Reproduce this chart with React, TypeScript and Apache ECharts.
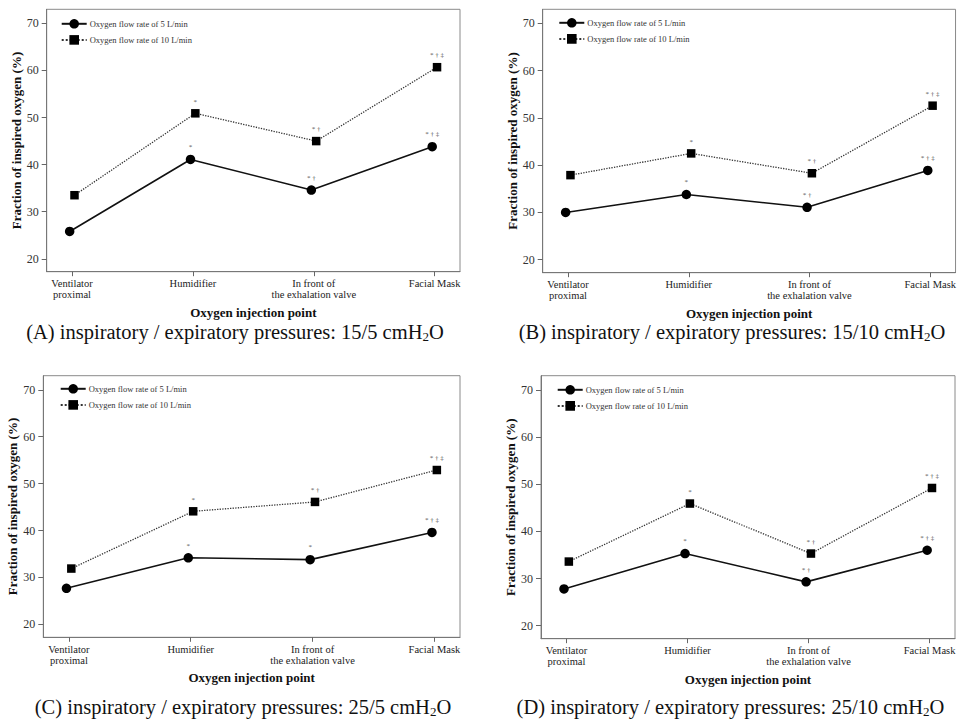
import React, { useEffect, useRef } from 'react';
import * as echarts from 'echarts';

const categories = ['Ventilator\nproximal', 'Humidifier', 'In front of\nthe exhalation valve', 'Facial Mask'];
const categoryIndex = [0, 1, 2, 3];
const yTicks = [20, 30, 40, 50, 60, 70];
const seriesNames = ['Oxygen flow rate of 5 L/min', 'Oxygen flow rate of 10 L/min'];

const panelA_5 = [25.8, 41.1, 34.6, 43.8];
const panelA_10 = [33.5, 50.9, 45.0, 60.7];
const panelB_5 = [30.0, 33.8, 31.1, 38.9];
const panelB_10 = [37.9, 42.5, 38.3, 52.6];
const panelC_5 = [27.7, 34.2, 33.8, 39.6];
const panelC_10 = [31.9, 44.1, 46.1, 52.9];
const panelD_5 = [27.8, 35.3, 29.3, 36.0];
const panelD_10 = [33.6, 45.9, 35.3, 49.2];

const marksStd = ['', '*', '* †', '* † ‡'];
const marksC_5 = ['', '*', '*', '* † ‡'];

const captionA = '(A) inspiratory / expiratory pressures: 15/5 cmH{sub|2}O';
const captionB = '(B) inspiratory / expiratory pressures: 15/10 cmH{sub|2}O';
const captionC = '(C) inspiratory / expiratory pressures: 25/5 cmH{sub|2}O';
const captionD = '(D) inspiratory / expiratory pressures: 25/10 cmH{sub|2}O';

const xAxisName = 'Oxygen injection point';
const yAxisName = 'Fraction of inspired oxygen (%)';

const SERIF = "'Liberation Serif', 'Times New Roman', 'DejaVu Serif', serif";

export default function App() {
  const ref = useRef<HTMLDivElement>(null);

  useEffect(() => {
    if (!ref.current) return;
    const chart = echarts.init(ref.current, null, { renderer: 'svg' });

    const panels = [
      { v5: panelA_5, v10: panelA_10, m5: marksStd, m10: marksStd, caption: captionA },
      { v5: panelB_5, v10: panelB_10, m5: marksStd, m10: marksStd, caption: captionB },
      { v5: panelC_5, v10: panelC_10, m5: marksC_5, m10: marksStd, caption: captionC },
      { v5: panelD_5, v10: panelD_10, m5: marksStd, m10: marksStd, caption: captionD },
    ];

    const layout = [
      { grid: { left: 46.7, top: 9.3, width: 413.3, height: 262.4 }, legend: { left: 60.7, top: 19 }, cap: { x: 235, y: 332 } },
      { grid: { left: 542.7, top: 9.3, width: 413, height: 263.4 }, legend: { left: 558.3, top: 18 }, cap: { x: 732, y: 332 } },
      { grid: { left: 43.3, top: 375.7, width: 416.7, height: 261.6 }, legend: { left: 59.7, top: 384 }, cap: { x: 243, y: 707 } },
      { grid: { left: 541, top: 375.7, width: 414, height: 263 }, legend: { left: 556.7, top: 385 }, cap: { x: 730.5, y: 707 } },
    ];

    const jitter = 0.02;

    const option: any = {
      animation: false,
      backgroundColor: '#fff',
      grid: layout.map((l) => ({
        ...l.grid,
        show: true,
        borderColor: '#8a8a8a',
        borderWidth: 1,
        backgroundColor: 'transparent',
        containLabel: false,
      })),
      xAxis: layout.map((_, i) => ({
        type: 'value',
        gridIndex: i,
        min: -0.21,
        max: 3.21,
        name: xAxisName,
        nameLocation: 'middle',
        nameGap: 34,
        nameTextStyle: { fontFamily: SERIF, fontWeight: 'bold', fontSize: 13, color: '#111' },
        splitLine: { show: false },
        axisLine: { show: true, onZero: false, lineStyle: { color: '#777', width: 1 } },
        axisTick: { show: true, length: 4.5, customValues: categoryIndex, lineStyle: { color: '#666' } },
        axisLabel: {
          customValues: categoryIndex,
          formatter: (v: number) => categories[Math.round(v)],
          fontFamily: SERIF,
          fontSize: 10.5,
          lineHeight: 10.5,
          color: '#222',
          margin: 7,
        },
      })),
      yAxis: layout.map((_, i) => ({
        type: 'value',
        gridIndex: i,
        min: 17.25,
        max: 73,
        name: yAxisName,
        nameLocation: 'middle',
        nameGap: 20,
        nameTextStyle: { fontFamily: SERIF, fontWeight: 'bold', fontSize: 13, color: '#111' },
        splitLine: { show: false },
        axisLine: { show: true, onZero: false, lineStyle: { color: '#777', width: 1 } },
        axisTick: { show: true, length: 5, customValues: yTicks, lineStyle: { color: '#666' } },
        axisLabel: {
          customValues: yTicks,
          fontFamily: SERIF,
          fontSize: 12,
          color: '#333',
          margin: 8,
        },
      })),
      legend: layout.map((l) => ({
        data: seriesNames,
        left: l.legend.left,
        top: l.legend.top,
        orient: 'vertical',
        itemWidth: 25,
        itemHeight: 12,
        itemGap: 6.5,
        selectedMode: false,
        padding: 0,
        textStyle: { fontFamily: SERIF, fontSize: 8.5, color: '#333', padding: [0, 0, 0, -2] },
      })),
      series: panels.flatMap((p, i) => [
        {
          name: seriesNames[0],
          type: 'line',
          xAxisIndex: i,
          yAxisIndex: i,
          data: p.v5.map((v, k) => [categoryIndex[k] - jitter, v]),
          symbol: 'circle',
          symbolSize: 9.5,
          itemStyle: { color: '#000' },
          lineStyle: { color: '#111', width: 1.6, type: 'solid' },
          label: {
            show: true,
            position: 'top',
            distance: 4,
            formatter: (q: any) => p.m5[q.dataIndex],
            fontFamily: SERIF,
            fontSize: 7,
            color: '#555',
          },
          z: 3,
        },
        {
          name: seriesNames[1],
          type: 'line',
          xAxisIndex: i,
          yAxisIndex: i,
          data: p.v10.map((v, k) => [categoryIndex[k] + jitter, v]),
          symbol: 'rect',
          symbolSize: 8.5,
          itemStyle: { color: '#000' },
          lineStyle: { color: '#333', width: 1.3, type: 'dotted' },
          label: {
            show: true,
            position: 'top',
            distance: 4,
            formatter: (q: any) => p.m10[q.dataIndex],
            fontFamily: SERIF,
            fontSize: 7,
            color: '#555',
          },
          z: 4,
        },
      ]),
      graphic: panels.map((p, i) => ({
        type: 'text',
        x: layout[i].cap.x,
        y: layout[i].cap.y,
        style: {
          text: p.caption,
          fontFamily: SERIF,
          fontSize: 20.5,
          fill: '#111',
          align: 'center',
          verticalAlign: 'middle',
          rich: {
            sub: { fontFamily: SERIF, fontSize: 13, fill: '#111', verticalAlign: 'bottom' },
          },
        },
      })),
    };

    chart.setOption(option);
    return () => chart.dispose();
  }, []);

  return (
    <div
      ref={ref}
      style={{ position: 'absolute', left: 0, top: 0, width: 959, height: 724, background: '#fff' }}
    />
  );
}
